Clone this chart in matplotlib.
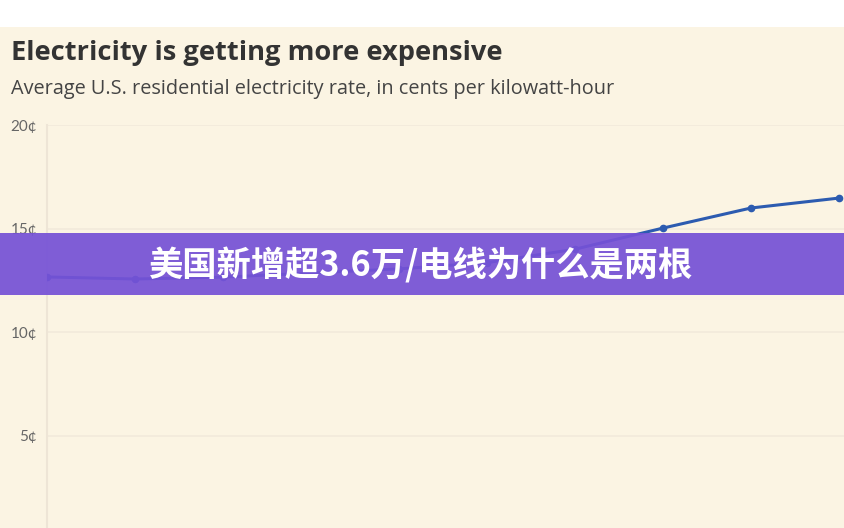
import matplotlib
matplotlib.use('Agg')
import matplotlib.pyplot as plt
from matplotlib.patches import Rectangle

# average residential rate, cents per kWh
years = [2015, 2016, 2017, 2018, 2019, 2020, 2021, 2022, 2023, 2024]
rates = [12.66, 12.56, 12.65, 12.85, 13.05, 13.35, 14.0, 15.02, 15.99, 16.47]
y_ticks = [5, 10, 15, 20]
y_labels = ['5¢', '10¢', '15¢', '20¢']

title = 'Electricity is getting more expensive'
subtitle = 'Average U.S. residential electricity rate, in cents per kilowatt-hour'
banner = '美国新增超3.6万/电线为什么是两根'

bg = '#fbf4e3'
line_color = '#2c5bb0'
grid_color = '#f2eadb'

fig = plt.figure(figsize=(8.44, 5.28), dpi=100, facecolor='white')

# beige card under the white strip at the top
fig.add_artist(Rectangle((0, 0), 1, 1 - 27 / 528, transform=fig.transFigure,
                         facecolor=bg, edgecolor='none', zorder=-10))

fig.text(11 / 844, 1 - 53 / 528, title, fontsize=19.6, fontweight='bold',
         color='#333333', family='Open Sans', va='center', ha='left')
fig.text(11 / 844, 1 - 89 / 528, subtitle, fontsize=14.3,
         color='#444444', family='Open Sans', va='center', ha='left')

ax = fig.add_axes([47 / 844, 0, 1 - 47 / 844, 1 - 125 / 528])
ax.set_facecolor('none')
ax.plot(years, rates, color=line_color, lw=2.2, marker='o', ms=4.5,
        markerfacecolor=line_color, markeredgecolor=line_color, zorder=3)

ax.set_xlim(years[0], years[0] + (844 - 47) / 88.0)
ax.set_ylim(20 - 403 / 20.7, 20)
ax.set_yticks(y_ticks)
ax.set_yticklabels(y_labels, family='Lato', fontsize=11, color='#666666')
ax.tick_params(axis='y', length=0, pad=7)
ax.set_xticks([])
ax.grid(axis='y', color=grid_color, lw=1.2)
for s in ['top', 'right', 'bottom']:
    ax.spines[s].set_visible(False)
ax.spines['left'].set_color('#eee5d6')
ax.spines['left'].set_linewidth(1.5)

# purple banner across the middle
fig.add_artist(Rectangle((0, 1 - 295 / 528), 1, 62 / 528, transform=fig.transFigure,
                         facecolor='#7652d6', edgecolor='none', alpha=0.93, zorder=5))
fig.text(421 / 844, 1 - 265 / 528, banner, fontsize=24.7, fontweight='black',
         color='white', family=['Noto Sans CJK SC', 'DejaVu Sans'],
         va='center', ha='center', zorder=6)

fig.savefig('out.png', dpi=100, facecolor=fig.get_facecolor())
